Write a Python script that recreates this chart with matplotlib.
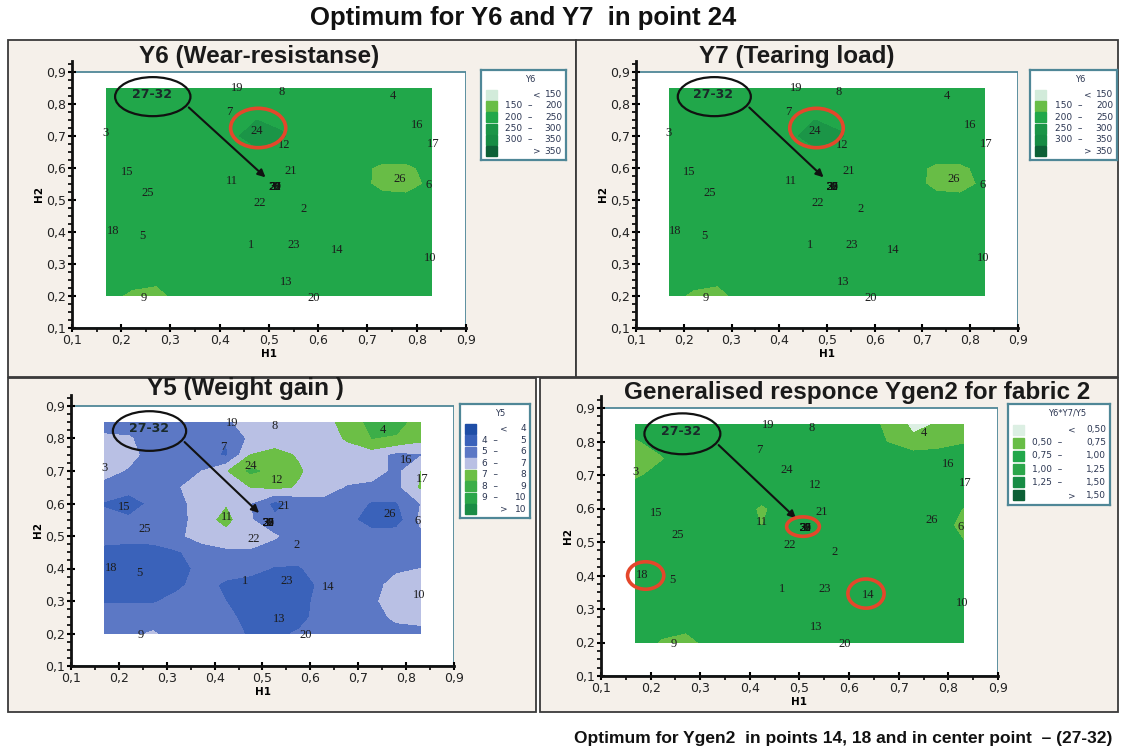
import numpy as np
import matplotlib.pyplot as plt
from matplotlib.patches import Ellipse, Rectangle

W, H = 1123, 756

# design points (label, H1, H2)
pt_labels = ['1', '2', '3', '4', '5', '6', '7', '8', '9', '10', '11', '12', '13',
             '14', '15', '16', '17', '18', '19', '20', '21', '22', '23', '24', '25', '26']
pt_h1 = [0.464, 0.571, 0.169, 0.751, 0.243, 0.825, 0.419, 0.525, 0.246, 0.828, 0.425, 0.531, 0.534,
         0.638, 0.212, 0.800, 0.833, 0.183, 0.436, 0.591, 0.545, 0.481, 0.551, 0.475, 0.254, 0.766]
pt_h2 = [0.360, 0.471, 0.709, 0.826, 0.386, 0.546, 0.774, 0.839, 0.195, 0.319, 0.560, 0.671, 0.245,
         0.343, 0.588, 0.733, 0.676, 0.402, 0.849, 0.195, 0.591, 0.492, 0.360, 0.715, 0.521, 0.567]
center_labels = ['27', '28', '29', '30', '31', '32']
center_h1, center_h2 = 0.512, 0.541

# grid nodes of the response maps
h1_nodes = np.linspace(0.17, 0.83, 14)
h2_nodes = np.linspace(0.20, 0.85, 14)

# Y6 wear resistance, rows from H2=0.85 down to H2=0.20
y6_grid = [
    [225, 225, 225, 225, 225, 225, 225, 225, 225, 225, 225, 225, 225, 225],
    [225, 225, 225, 225, 225, 225, 225, 225, 225, 225, 225, 225, 225, 225],
    [225, 225, 225, 225, 225, 232, 250, 240, 225, 225, 225, 225, 225, 225],
    [225, 225, 225, 225, 225, 238, 275, 255, 225, 225, 225, 225, 225, 225],
    [225, 225, 225, 225, 225, 230, 240, 235, 225, 225, 225, 225, 225, 225],
    [225, 225, 225, 225, 225, 225, 225, 225, 225, 225, 215, 190, 190, 215],
    [225, 225, 225, 225, 225, 225, 225, 225, 225, 225, 220, 185, 180, 210],
    [225, 225, 225, 225, 225, 225, 225, 225, 225, 225, 225, 218, 215, 225],
    [225, 225, 225, 225, 225, 225, 225, 225, 225, 225, 225, 225, 225, 225],
    [225, 225, 225, 225, 225, 225, 225, 225, 225, 225, 225, 225, 225, 225],
    [225, 225, 225, 225, 225, 225, 225, 225, 225, 225, 225, 225, 225, 225],
    [225, 225, 225, 225, 225, 225, 225, 225, 225, 225, 225, 225, 225, 225],
    [225, 215, 208, 222, 225, 225, 225, 225, 225, 225, 225, 225, 225, 225],
    [215, 190, 185, 215, 225, 225, 225, 225, 225, 225, 225, 225, 225, 225],
]
# Y7 map is drawn identically in the source
y7_grid = [row[:] for row in y6_grid]

# Y5 weight gain
y5_grid = [
    [5.5, 5.5, 5.5, 5.5, 5.5, 5.8, 6.5, 6.5, 6.5, 6.6, 7.4, 8.3, 8.3, 7.6],
    [6.2, 6.1, 5.5, 5.4, 5.3, 5.1, 6.2, 6.5, 6.5, 6.6, 7.1, 8.0, 7.9, 7.3],
    [6.6, 6.3, 5.6, 5.5, 5.6, 4.8, 7.0, 7.3, 6.9, 6.5, 6.6, 6.5, 5.7, 5.9],
    [6.3, 5.9, 5.5, 5.5, 6.0, 6.9, 8.2, 7.7, 7.1, 6.5, 6.5, 6.5, 5.7, 7.0],
    [5.7, 5.5, 5.5, 5.9, 6.6, 6.7, 7.0, 7.2, 6.9, 6.4, 5.9, 5.7, 5.7, 7.1],
    [4.9, 4.4, 5.3, 5.6, 6.6, 6.9, 6.0, 4.7, 5.3, 5.7, 5.5, 4.9, 4.9, 6.0],
    [5.3, 5.2, 5.5, 5.6, 6.5, 7.3, 6.1, 5.2, 5.5, 5.5, 5.3, 4.5, 4.5, 6.2],
    [5.5, 5.5, 5.5, 5.8, 6.4, 6.6, 6.7, 6.1, 5.5, 5.5, 5.5, 5.4, 5.5, 5.8],
    [4.6, 4.4, 4.5, 4.9, 5.5, 5.8, 5.8, 5.6, 5.5, 5.5, 5.5, 5.5, 5.5, 5.5],
    [4.5, 4.2, 4.2, 4.6, 5.3, 5.5, 5.4, 4.9, 4.9, 5.5, 5.5, 5.5, 5.8, 6.0],
    [4.6, 4.4, 4.4, 4.8, 5.4, 4.8, 4.5, 4.5, 4.6, 5.2, 5.5, 5.6, 6.4, 6.6],
    [4.9, 4.9, 4.9, 5.3, 5.5, 5.0, 4.5, 4.5, 4.7, 5.3, 5.5, 5.8, 6.5, 6.6],
    [5.5, 5.5, 5.5, 5.5, 5.6, 5.3, 4.6, 4.5, 4.7, 5.4, 5.5, 5.6, 6.2, 6.3],
    [5.5, 5.8, 6.1, 5.5, 5.5, 5.6, 4.8, 4.8, 5.1, 5.5, 5.5, 5.5, 5.6, 5.7],
]

# generalised response Y6*Y7/Y5
ygen_grid = [
    [0.90, 0.90, 0.90, 0.90, 0.90, 0.90, 0.90, 0.90, 0.90, 0.90, 0.68, 0.45, 0.52, 0.70],
    [0.72, 0.85, 0.90, 0.90, 0.90, 0.90, 0.90, 0.90, 0.90, 0.90, 0.74, 0.55, 0.62, 0.72],
    [0.65, 0.72, 0.90, 0.90, 0.90, 0.90, 0.90, 0.90, 0.90, 0.90, 0.90, 0.90, 0.90, 0.90],
    [0.70, 0.85, 0.90, 0.90, 0.90, 0.90, 0.90, 0.90, 0.90, 0.90, 0.90, 0.90, 0.90, 0.90],
    [0.90, 0.90, 0.90, 0.90, 0.90, 0.90, 0.90, 0.90, 0.90, 0.90, 0.90, 0.90, 0.90, 0.90],
    [0.90, 0.90, 0.90, 0.90, 0.90, 0.70, 0.90, 0.90, 0.90, 0.90, 0.90, 0.90, 0.90, 0.74],
    [0.90, 0.90, 0.90, 0.90, 0.90, 0.74, 0.90, 0.90, 0.90, 0.90, 0.90, 0.90, 0.90, 0.65],
    [0.90, 0.90, 0.90, 0.90, 0.90, 0.90, 0.90, 0.90, 0.90, 0.90, 0.90, 0.90, 0.90, 0.76],
    [0.90, 0.90, 0.90, 0.90, 0.90, 0.90, 0.90, 0.90, 0.90, 0.90, 0.90, 0.90, 0.90, 0.90],
    [0.90, 0.90, 0.90, 0.90, 0.90, 0.90, 0.90, 0.90, 0.90, 0.90, 0.90, 0.90, 0.90, 0.90],
    [0.90, 0.90, 0.90, 0.90, 0.90, 0.90, 0.90, 0.90, 0.90, 0.90, 0.90, 0.90, 0.90, 0.90],
    [0.90, 0.90, 0.90, 0.90, 0.90, 0.90, 0.90, 0.90, 0.90, 0.90, 0.90, 0.90, 0.90, 0.90],
    [0.90, 0.85, 0.82, 0.90, 0.90, 0.90, 0.90, 0.90, 0.90, 0.90, 0.90, 0.90, 0.90, 0.90],
    [0.90, 0.72, 0.65, 0.85, 0.90, 0.90, 0.90, 0.90, 0.90, 0.90, 0.90, 0.90, 0.90, 0.90],
]

y6_levels = [0, 150, 200, 250, 300, 350, 1000]
y6_ticks = ['150', '200', '250', '300', '350']
y6_colors = ['#d2ebda', '#68bd46', '#21a74a', '#1b9547', '#178c44', '#0d6036']
y5_levels = [0, 4, 5, 6, 7, 8, 9, 10, 100]
y5_ticks = ['4', '5', '6', '7', '8', '9', '10']
y5_colors = ['#1f4ea6', '#3a62ba', '#5c78c5', '#b9c0e4', '#6cbf46', '#3cae48', '#2ba64a', '#1a8c45']
ygen_levels = [0, 0.5, 0.75, 1.0, 1.25, 1.5, 10]
ygen_ticks = ['0,50', '0,75', '1,00', '1,25', '1,50']
ygen_colors = ['#dcefe3', '#68bd46', '#21a74a', '#2ba64a', '#178c44', '#0d6036']

fig = plt.figure(figsize=(W / 100, H / 100), dpi=100)
fig.patch.set_facecolor('white')


def px_rect(x0, y0, x1, y1):
    return [x0 / W, 1 - y1 / H, (x1 - x0) / W, (y1 - y0) / H]


# panel frames
for (x0, y0, x1, y1) in [(8, 40, 576, 377), (576, 40, 1118, 377), (8, 378, 536, 712), (540, 378, 1118, 712)]:
    fig.patches.append(Rectangle((x0 / W, 1 - y1 / H), (x1 - x0) / W, (y1 - y0) / H,
                                 transform=fig.transFigure, facecolor='#f5f0ea',
                                 edgecolor='#3a3a3a', lw=1.3, zorder=-5))


def make_map(x01, x09, y09, y01, grid, levels, colors, title, tcx, tcy):
    sy = (y01 - y09) / 0.8
    top = y09 - 0.035 * sy
    ax = fig.add_axes(px_rect(x01, top, x09, y01))
    ax.set_xlim(0.1, 0.9)
    ax.set_ylim(0.1, 0.935)
    ax.set_facecolor('none')
    ax.add_patch(Rectangle((0.1, 0.1), 0.8, 0.8, facecolor='white', edgecolor='#4f8797', lw=1.3, zorder=0))
    ax.contourf(h1_nodes, h2_nodes, np.array(grid)[::-1], levels=levels, colors=colors, zorder=1)
    for s in ['top', 'right']:
        ax.spines[s].set_visible(False)
    for s in ['left', 'bottom']:
        ax.spines[s].set_linewidth(2)
        ax.spines[s].set_color('#111')
    ax.spines['bottom'].set_bounds(0.1, 0.9)
    ticks = np.arange(1, 10) / 10
    ax.set_xticks(ticks)
    ax.set_yticks(ticks)
    ax.set_xticklabels(['0,%d' % i for i in range(1, 10)])
    ax.set_yticklabels(['0,%d' % i for i in range(1, 10)])
    ax.set_xticks(np.arange(0.1, 0.9001, 0.05), minor=True)
    ax.set_yticks(np.arange(0.1, 0.9301, 0.025), minor=True)
    ax.tick_params(which='major', direction='inout', length=6, width=1.5, labelsize=9,
                   labelcolor='#222', pad=1)
    ax.tick_params(which='minor', direction='out', length=3, width=1.2)
    ax.set_xlabel('H1', fontsize=7.5, weight='bold', labelpad=2)
    ax.set_ylabel('H2', fontsize=7.5, weight='bold', labelpad=2)
    for lab, x, y in zip(pt_labels, pt_h1, pt_h2):
        ax.text(x, y, lab, ha='center', va='center', fontsize=9, color='#1c1c1c',
                family='Liberation Serif', zorder=4)
    for lab in center_labels:
        ax.text(center_h1, center_h2, lab, ha='center', va='center', fontsize=8.5, color='#111',
                family='Liberation Serif', zorder=4)
    ax.add_patch(Ellipse((0.264, 0.823), 0.153, 0.122, fill=False, edgecolor='#111', lw=1.6, zorder=5))
    ax.text(0.262, 0.831, '27-32', ha='center', va='center', fontsize=9, weight='bold', color='#1a2a2a', zorder=5)
    ax.annotate('', xy=(0.497, 0.565), xytext=(0.333, 0.795),
                arrowprops=dict(arrowstyle='-|>', color='#111', lw=1.5, mutation_scale=11), zorder=5)
    fig.text(tcx / W, 1 - tcy / H, title, ha='center', va='center', fontsize=17.5, weight='bold',
             family='Liberation Sans', color='#1a1a1a')
    return ax


def legend_box(x0, y0, x1, y1, title, ticks, colors, hi_x, lo_x, sign_dx):
    lax = fig.add_axes(px_rect(x0, y0, x1, y1))
    w, h = x1 - x0, y1 - y0
    lax.set_xlim(0, w)
    lax.set_ylim(h, 0)
    lax.set_xticks([])
    lax.set_yticks([])
    lax.set_facecolor('white')
    for s in lax.spines.values():
        s.set_color('#4f8797')
        s.set_linewidth(1.6)
    lax.text(w * 0.58, 9, title, ha='center', va='center', fontsize=6, color='#2b3652')
    n = len(colors)
    step = (h - 22) / n
    for i, c in enumerate(colors):
        yc = 21 + step * i + step / 2 - 2
        lax.add_patch(Rectangle((5, yc - 5), 11, 10, color=c))
        kw = dict(va='center', fontsize=6.5, color='#2b3652')
        if i == 0:
            lax.text(hi_x - sign_dx, yc, '<', ha='center', **kw)
            lax.text(hi_x, yc, ticks[0], ha='right', **kw)
        elif i == n - 1:
            lax.text(hi_x - sign_dx, yc, '>', ha='center', **kw)
            lax.text(hi_x, yc, ticks[-1], ha='right', **kw)
        else:
            lax.text(lo_x, yc, ticks[i - 1] + '  –', ha='left', **kw)
            lax.text(hi_x, yc, ticks[i], ha='right', **kw)


ax1 = make_map(72, 466, 72, 328, y6_grid, y6_levels, y6_colors, 'Y6 (Wear-resistanse)', 259, 56)
ax1.add_patch(Ellipse((0.478, 0.725), 0.112, 0.123, fill=False, edgecolor='#e4472b', lw=2.6, zorder=6))
legend_box(481, 70, 566, 160, 'Y6', y6_ticks, y6_colors, 81, 24, 25)

ax2 = make_map(636, 1018, 72, 328, y7_grid, y6_levels, y6_colors, 'Y7 (Tearing load)', 797, 56)
ax2.add_patch(Ellipse((0.478, 0.725), 0.112, 0.123, fill=False, edgecolor='#e4472b', lw=2.6, zorder=6))
legend_box(1030, 70, 1117, 160, 'Y6', y6_ticks, y6_colors, 83, 25, 25)

ax3 = make_map(71, 454, 406, 666, y5_grid, y5_levels, y5_colors, 'Y5 (Weight gain )', 245, 389)
legend_box(460, 404, 530, 518, 'Y5', y5_ticks, y5_colors, 66, 22, 22)

ax4 = make_map(601, 998, 408, 676, ygen_grid, ygen_levels, ygen_colors,
               'Generalised responce Ygen2 for fabric 2', 857, 392)
for (cx, cy, ew, eh) in [(0.507, 0.546, 0.066, 0.058), (0.19, 0.40, 0.073, 0.082), (0.634, 0.346, 0.073, 0.087)]:
    ax4.add_patch(Ellipse((cx, cy), ew, eh, fill=False, edgecolor='#e4472b', lw=2.6, zorder=6))
legend_box(1008, 404, 1110, 505, 'Y6*Y7/Y5', ygen_ticks, ygen_colors, 98, 24, 34)

fig.text(523 / W, 1 - 18 / H, 'Optimum for Y6 and Y7  in point 24', ha='center', va='center',
         fontsize=18.5, weight='bold', family=['Liberation Sans Narrow', 'Liberation Sans'], color='#111')
fig.text(1112 / W, 1 - 738 / H, 'Optimum for Ygen2  in points 14, 18 and in center point  – (27-32)',
         ha='right', va='center', fontsize=12.5, weight='bold',
         family=['Liberation Sans Narrow', 'Liberation Sans'], color='#111')

fig.savefig('out.png', dpi=100)
